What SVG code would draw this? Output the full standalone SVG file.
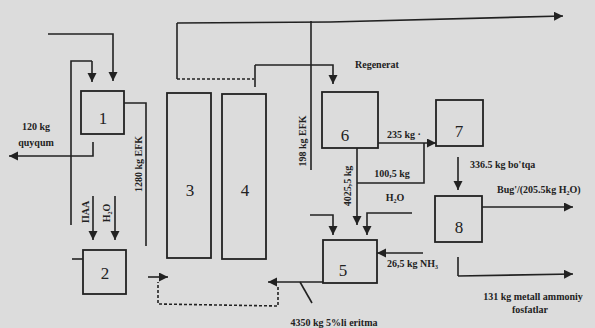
<svg xmlns="http://www.w3.org/2000/svg" width="595" height="328" viewBox="0 0 595 328">
<defs>
<marker id="ah" markerUnits="userSpaceOnUse" markerWidth="10" markerHeight="10" refX="9" refY="4.5" orient="auto">
<path d="M0,0 L9,4.5 L0,9 Z" fill="#222"/>
</marker>
<style>
.bx{fill:none;stroke:#222;stroke-width:1.8}
.ln{fill:none;stroke:#222;stroke-width:1.6}
.ar{fill:none;stroke:#222;stroke-width:1.6;marker-end:url(#ah)}
.ds{fill:none;stroke:#222;stroke-width:1.6;stroke-dasharray:3,2}
.num{font-family:"Liberation Serif",serif;font-size:17px;fill:#222;text-anchor:middle}
.lb{font-family:"Liberation Serif",serif;font-weight:bold;font-size:10px;fill:#222}
</style>
</defs>
<rect width="595" height="328" fill="#dcdcdc"/>
<g id="connectors">
<polyline class="ln" points="71,225 71,61 92,61"/>
<polyline class="ar" points="92,61 92,82"/>
<line class="ln" x1="72" y1="259" x2="83" y2="259"/>
<polyline class="ar" points="48,34 113,34 113,81"/>
<polyline class="ar" points="93,142 93,156 9,156"/>
<polyline class="ln" points="124,103 146,103 146,246"/>
<line class="ar" x1="93" y1="196" x2="93" y2="240"/>
<line class="ar" x1="115" y1="196" x2="115" y2="240"/>
<polyline class="ln" points="177,79 177,23"/>
<polyline class="ar" points="177,23 330,22 563,16"/>
<line class="ds" x1="177" y1="79" x2="254" y2="79"/>
<line class="ln" x1="255" y1="87" x2="255" y2="65"/>
<polyline class="ar" points="255,65 333,65 333,84"/>
<line class="ln" x1="311" y1="21" x2="311" y2="170"/>
<line class="ar" x1="378" y1="143" x2="436" y2="143"/>
<polyline class="ln" points="424,143 424,183 357,183"/>
<line class="ar" x1="357" y1="148" x2="357" y2="225"/>
<polyline class="ar" points="412,213 367,213 367,235"/>
<polyline class="ar" points="310,215 333,215 333,235"/>
<line class="ar" x1="423" y1="253" x2="377" y2="253"/>
<line class="ar" x1="323" y1="282" x2="268" y2="282"/>
<line class="ln" x1="300" y1="282" x2="312" y2="303"/>
<polyline class="ds" points="278,287 278,306 158,304 158,282"/>
<line class="ar" x1="148" y1="277" x2="168" y2="277"/>
<line class="ar" x1="458" y1="157" x2="458" y2="190"/>
<line class="ar" x1="482" y1="207" x2="573" y2="207"/>
<polyline class="ln" points="458,257 458,276"/>
<polyline class="ar" points="458,276 573,274"/>
</g>
<g id="node1"><rect class="bx" x="81" y="91" width="43" height="43"/><text class="num" x="103" y="124">1</text></g>
<g id="node2"><rect class="bx" x="83" y="250" width="43" height="44"/><text class="num" x="105" y="279">2</text></g>
<g id="node3"><rect class="bx" x="167" y="93" width="44" height="165"/><text class="num" x="190" y="196">3</text></g>
<g id="node4"><rect class="bx" x="222" y="94" width="44" height="165"/><text class="num" x="245" y="196">4</text></g>
<g id="node5"><rect class="bx" x="323" y="240" width="54" height="43"/><text class="num" x="343" y="276">5</text></g>
<g id="node6"><rect class="bx" x="322" y="92" width="56" height="56"/><text class="num" x="345" y="141">6</text></g>
<g id="node7"><rect class="bx" x="436" y="100" width="47" height="46"/><text class="num" x="459" y="137">7</text></g>
<g id="node8"><rect class="bx" x="435" y="196" width="47" height="46"/><text class="num" x="459" y="233">8</text></g>
<g id="labels">
<text class="lb" x="36" y="130" text-anchor="middle" font-size="11">120 kg</text>
<text class="lb" x="36" y="146" text-anchor="middle" font-size="11">quyqum</text>
<text class="lb" transform="translate(142,164) rotate(-90)" text-anchor="middle" font-size="11">1280 kg EFK</text>
<text class="lb" transform="translate(306,141) rotate(-90)" text-anchor="middle" font-size="11">198 kg EFK</text>
<text class="lb" transform="translate(89,212) rotate(-90)" text-anchor="middle" font-size="9">ПАА</text>
<text class="lb" transform="translate(110,213) rotate(-90)" text-anchor="middle" font-size="9">H₂O</text>
<text class="lb" transform="translate(351,186) rotate(-90)" text-anchor="middle" font-size="9">4025,5 kg</text>
<text class="lb" x="355" y="68" font-size="12">Regenerat</text>
<text class="lb" x="387" y="138">235  kg ·</text>
<text class="lb" x="392" y="177" text-anchor="middle">100,5 kg</text>
<text class="lb" x="395" y="201" text-anchor="middle">H₂O</text>
<text class="lb" x="387" y="267">26,5 kg NH₃</text>
<text class="lb" x="470" y="168">336.5 kg bo'tqa</text>
<text class="lb" x="497" y="193">Bug'/(205.5kg H₂O)</text>
<text class="lb" x="533" y="300" text-anchor="middle">131 kg metall ammoniy</text>
<text class="lb" x="530" y="313" text-anchor="middle">fosfatlar</text>
<text class="lb" x="334" y="326" text-anchor="middle" font-size="8">4350 kg 5%li eritma</text>
</g>
</svg>
